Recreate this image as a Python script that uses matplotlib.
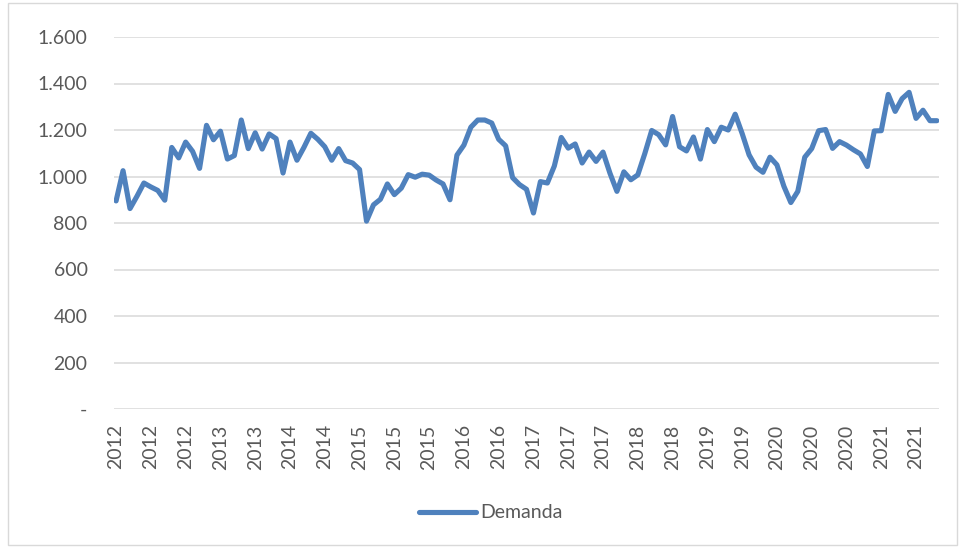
import matplotlib
matplotlib.use('Agg')
import matplotlib.pyplot as plt
from matplotlib.patches import Rectangle

# monthly demand
demanda = [895, 1025, 862, 915, 972, 955, 940, 898, 1125, 1080,
           1148, 1108, 1035, 1220, 1158, 1195, 1075, 1090, 1243, 1120,
           1188, 1118, 1183, 1163, 1015, 1148, 1070, 1125, 1186, 1160,
           1128, 1070, 1120, 1068, 1058, 1030, 808, 878, 902, 968,
           922, 950, 1008, 997, 1010, 1006, 985, 968, 900, 1092,
           1135, 1212, 1243, 1243, 1230, 1160, 1132, 995, 965, 945,
           843, 978, 972, 1045, 1168, 1122, 1140, 1058, 1105, 1065,
           1105, 1014, 936, 1020, 986, 1007, 1098, 1198, 1180, 1136,
           1258, 1128, 1110, 1170, 1075, 1202, 1150, 1212, 1200, 1268,
           1185, 1093, 1040, 1018, 1083, 1050, 958, 888, 936, 1083,
           1120, 1197, 1202, 1121, 1150, 1135, 1115, 1097, 1043, 1196,
           1197, 1353, 1280, 1335, 1362, 1250, 1285, 1240, 1240]

# x labels shown every 5th month
x_labels = ['2012', '2012', '2012', '2013', '2013', '2014', '2014', '2015',
            '2015', '2015', '2016', '2016', '2017', '2017', '2017', '2018',
            '2018', '2019', '2019', '2020', '2020', '2020', '2021', '2021']
label_step = 5

y_ticks = [0, 200, 400, 600, 800, 1000, 1200, 1400, 1600]
y_labels = ['-', '200', '400', '600', '800', '1.000', '1.200', '1.400', '1.600']

plt.rcParams['font.family'] = ['Lato', 'DejaVu Sans']

fig = plt.figure(figsize=(9.59, 5.47), dpi=100)
ax = fig.add_axes([114 / 959, 1 - 409 / 547, (939 - 114) / 959, (409 - 37) / 547])

# chart area border
fig.patches.append(Rectangle((8 / 959, 2 / 547), 949 / 959, 542 / 547,
                             transform=fig.transFigure, fill=False,
                             edgecolor='#D9D9D9', linewidth=1.0))

x = list(range(len(demanda)))
ax.plot(x, demanda, color='#4F81BD', linewidth=3.7, solid_capstyle='round',
        solid_joinstyle='round', label='Demanda', zorder=3)

ax.set_ylim(0, 1600)
ax.set_xlim(-0.3, len(demanda) - 0.7)
ax.set_yticks(y_ticks)
ax.set_yticklabels(y_labels)
ax.set_xticks(x[::label_step])
ax.set_xticklabels(x_labels, rotation=90)

ax.grid(axis='y', color='#D9D9D9', linewidth=1.1)
ax.set_axisbelow(True)
for s in ax.spines.values():
    s.set_visible(False)
ax.tick_params(axis='both', length=0, colors='#595959', labelsize=14)
ax.tick_params(axis='y', pad=19)
ax.tick_params(axis='x', pad=11)

fig.legend(loc='center', bbox_to_anchor=(491 / 959, 34 / 547), frameon=False,
           fontsize=14, handlelength=2.9, handletextpad=0.25,
           labelcolor='#595959')

fig.savefig('out.png', dpi=100)
